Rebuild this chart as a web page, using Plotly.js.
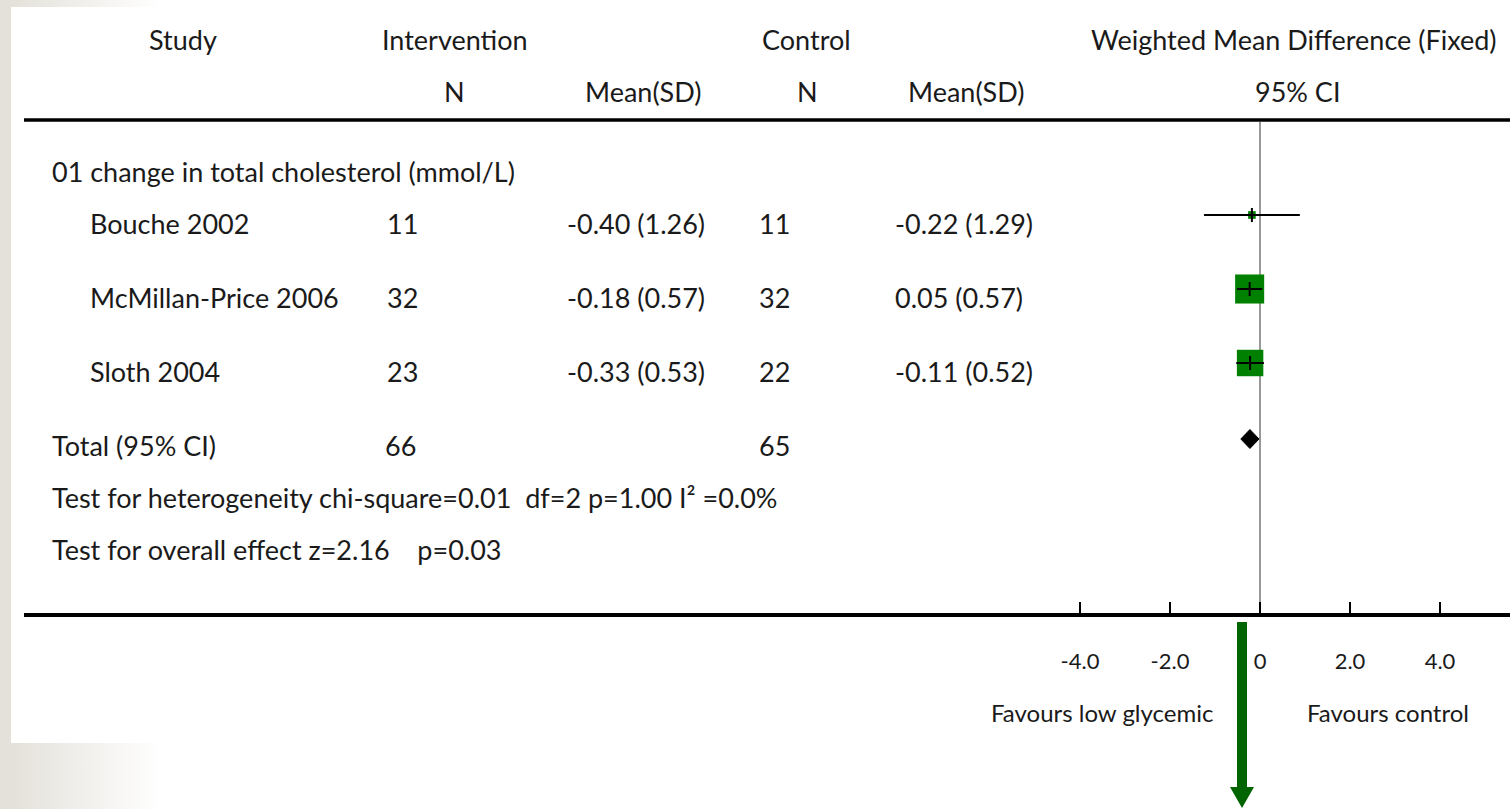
<!DOCTYPE html>
<html><head><meta charset="utf-8">
<script src="https://cdn.plot.ly/plotly-3.0.1.min.js"></script>
<style>
html,body{margin:0;padding:0;background:#fff;}
#wrap{position:relative;width:1510px;height:809px;overflow:hidden;background:#fff;}
.band{position:absolute;}
#chart{position:absolute;left:0;top:0;width:1510px;height:809px;}
</style></head><body>
<div id="wrap">
<div class="band" style="left:0;top:0;width:11px;height:809px;background:#e4e1da"></div>
<div class="band" style="left:11px;top:0;width:150px;height:7px;background:linear-gradient(to right,#e4e1da,#ffffff)"></div>
<div class="band" style="left:11px;top:743px;width:150px;height:66px;background:linear-gradient(to right,#e4e1da,#ffffff)"></div>
<div id="chart"></div>
</div>
<script>
// ---------------- data ----------------
const groupLabel = '01 change in total cholesterol (mmol/L)';
const studies = ['Bouche 2002', 'McMillan-Price 2006', 'Sloth 2004'];
const nInt = [11, 32, 23];
const meanInt = [-0.40, -0.18, -0.33];
const sdInt = [1.26, 0.57, 0.53];
const nCtl = [11, 32, 22];
const meanCtl = [-0.22, 0.05, -0.11];
const sdCtl = [1.29, 0.57, 0.52];
const tickVals = [-4, -2, 0, 2, 4];
const tickText = ['-4.0', '-2.0', '0', '2.0', '4.0'];
const headerRow1 = ['Study', 'Intervention', 'Control', 'Weighted Mean Difference (Fixed)'];
const headerRow2 = ['N', 'Mean(SD)', 'N', 'Mean(SD)', '95% CI'];
const totalLabel = 'Total (95% CI)';
const hetText = 'Test for heterogeneity chi-square=0.01  df=2 p=1.00 I\u00b2 =0.0%';
const overallText = 'Test for overall effect z=2.16    p=0.03';
const favourLeft = 'Favours low glycemic';
const favourRight = 'Favours control';

// ---------------- layout constants ----------------
const W = 1510, H = 809, L = 24;
const PX_PER_UNIT = 45, ZERO_PX = 1260, AXIS_Y = 614;
const FONT = 'Lato, "Open Sans", sans-serif';
const TXT = '#1a1a1a';
const FS = 27;
const xr = [-(ZERO_PX - L) / PX_PER_UNIT, (W - ZERO_PX) / PX_PER_UNIT];
const px = p => (p - L) / (W - L);
const py = p => 1 - p / H;
const ROW = {h1: 39, h2: 91, group: 171, studies: [223, 297, 371], total: 445, het: 497, overall: 549};
const MARK_OFF = -8;

// ---------------- statistics ----------------
const md = [], se = [], wt = [], lo = [], hi = [];
for (let i = 0; i < studies.length; i++) {
  md.push(meanInt[i] - meanCtl[i]);
  const s = Math.sqrt(sdInt[i] ** 2 / nInt[i] + sdCtl[i] ** 2 / nCtl[i]);
  se.push(s); wt.push(1 / (s * s));
  lo.push(md[i] - 1.96 * s); hi.push(md[i] + 1.96 * s);
}
const sw = wt.reduce((a, b) => a + b, 0);
const pooled = md.reduce((a, d, i) => a + d * wt[i], 0) / sw;
const pse = 1 / Math.sqrt(sw);
const plo = pooled - 1.96 * pse, phi = pooled + 1.96 * pse;
const totInt = nInt.reduce((a, b) => a + b, 0);
const totCtl = nCtl.reduce((a, b) => a + b, 0);
const markY = ROW.studies.map(y => y + MARK_OFF);
const sizes = wt.map(w => 4.14 * Math.sqrt(w));

// ---------------- traces ----------------
const ciX = [], ciY = [];
for (let i = 0; i < studies.length; i++) { ciX.push(lo[i], hi[i], null); ciY.push(markY[i], markY[i], null); }
const dY = ROW.total - 6, dH = 9.5;
const traces = [
  {type: 'scatter', mode: 'markers', x: md, y: markY, hoverinfo: 'skip',
   marker: {symbol: 'square', size: sizes, color: '#008000', opacity: 1, line: {width: 0}}},
  {type: 'scatter', mode: 'lines', x: ciX, y: ciY, hoverinfo: 'skip', line: {color: '#000', width: 2}},
  {type: 'scatter', mode: 'markers', x: md, y: markY, hoverinfo: 'skip',
   marker: {symbol: 'line-ns', size: 10, opacity: 1, line: {color: '#000', width: 2}}},
  {type: 'scatter', mode: 'lines', x: [plo, pooled, phi, pooled, plo], y: [dY, dY - dH, dY, dY + dH, dY],
   fill: 'toself', fillcolor: '#000', line: {color: '#000', width: 1}, hoverinfo: 'skip'}
];

// ---------------- annotations ----------------
const ann = [];
function txt(t, x, y, anchor, size) {
  ann.push({text: t, xref: 'paper', x: px(x), yref: 'y', y: y, xanchor: anchor || 'left', yanchor: 'middle',
    showarrow: false, font: {family: FONT, size: size || FS, color: TXT}});
}
txt(headerRow1[0], 183, ROW.h1, 'center');
txt(headerRow1[1], 455, ROW.h1, 'center');
txt(headerRow1[2], 806, ROW.h1, 'center');
txt(headerRow1[3], 1294, ROW.h1, 'center');
txt(headerRow2[0], 455, ROW.h2, 'center');
txt(headerRow2[1], 643, ROW.h2, 'center');
txt(headerRow2[2], 807, ROW.h2, 'center');
txt(headerRow2[3], 966, ROW.h2, 'center');
txt(headerRow2[4], 1297, ROW.h2, 'center');
txt(groupLabel, 50, ROW.group);
const f2 = v => v.toFixed(2);
for (let i = 0; i < studies.length; i++) {
  const y = ROW.studies[i];
  txt(studies[i], 88, y);
  txt(String(nInt[i]), 385, y);
  txt(f2(meanInt[i]) + ' (' + f2(sdInt[i]) + ')', 565, y);
  txt(String(nCtl[i]), 757, y);
  txt(f2(meanCtl[i]) + ' (' + f2(sdCtl[i]) + ')', 893, y);
}
txt(totalLabel, 50, ROW.total);
txt(String(totInt), 383, ROW.total);
txt(String(totCtl), 757, ROW.total);
txt(hetText, 50, ROW.het);
txt(overallText, 50, ROW.overall);
txt(favourLeft, 1102, 712, 'center', 24);
txt(favourRight, 1388, 712, 'center', 24);

// ---------------- shapes ----------------
const ax0 = 1237, ax1 = 1247, ay0 = 622, ayh = 787, ay1 = 808, hw = 12, acx = 1242;
const arrowPath = 'M' + px(ax0) + ',' + py(ay0) + ' L' + px(ax1) + ',' + py(ay0) + ' L' + px(ax1) + ',' + py(ayh) +
  ' L' + px(acx + hw) + ',' + py(ayh) + ' L' + px(acx) + ',' + py(ay1) + ' L' + px(acx - hw) + ',' + py(ayh) +
  ' L' + px(ax0) + ',' + py(ayh) + ' Z';
const shapes = [
  {type: 'line', xref: 'paper', x0: 0, x1: 1, yref: 'y', y0: 120, y1: 120, line: {color: '#000', width: 3.5}},
  {type: 'line', xref: 'x', x0: 0, x1: 0, yref: 'y', y0: 122, y1: AXIS_Y, layer: 'below', line: {color: '#999', width: 2}},
  {type: 'path', xref: 'paper', yref: 'paper', path: arrowPath, fillcolor: '#006400', line: {width: 0}}
];

const layout = {
  width: W, height: H, margin: {l: L, r: 0, t: 0, b: 0, pad: 0},
  paper_bgcolor: 'rgba(0,0,0,0)', plot_bgcolor: 'rgba(0,0,0,0)',
  showlegend: false, font: {family: FONT, color: TXT},
  xaxis: {range: xr, anchor: 'free', position: 1 - AXIS_Y / H, showline: true, linewidth: 3.5, linecolor: '#000',
    ticks: 'inside', ticklen: 11, tickwidth: 1.5, tickcolor: '#000', tickvals: tickVals, ticktext: tickText,
    tickfont: {family: FONT, size: 22, color: TXT}, ticklabelstandoff: 26, showgrid: false, zeroline: false, fixedrange: true},
  yaxis: {range: [H, 0], visible: false, showgrid: false, zeroline: false, fixedrange: true},
  annotations: ann, shapes: shapes
};
Plotly.newPlot('chart', traces, layout, {staticPlot: true, displayModeBar: false});
</script>
</body></html>
